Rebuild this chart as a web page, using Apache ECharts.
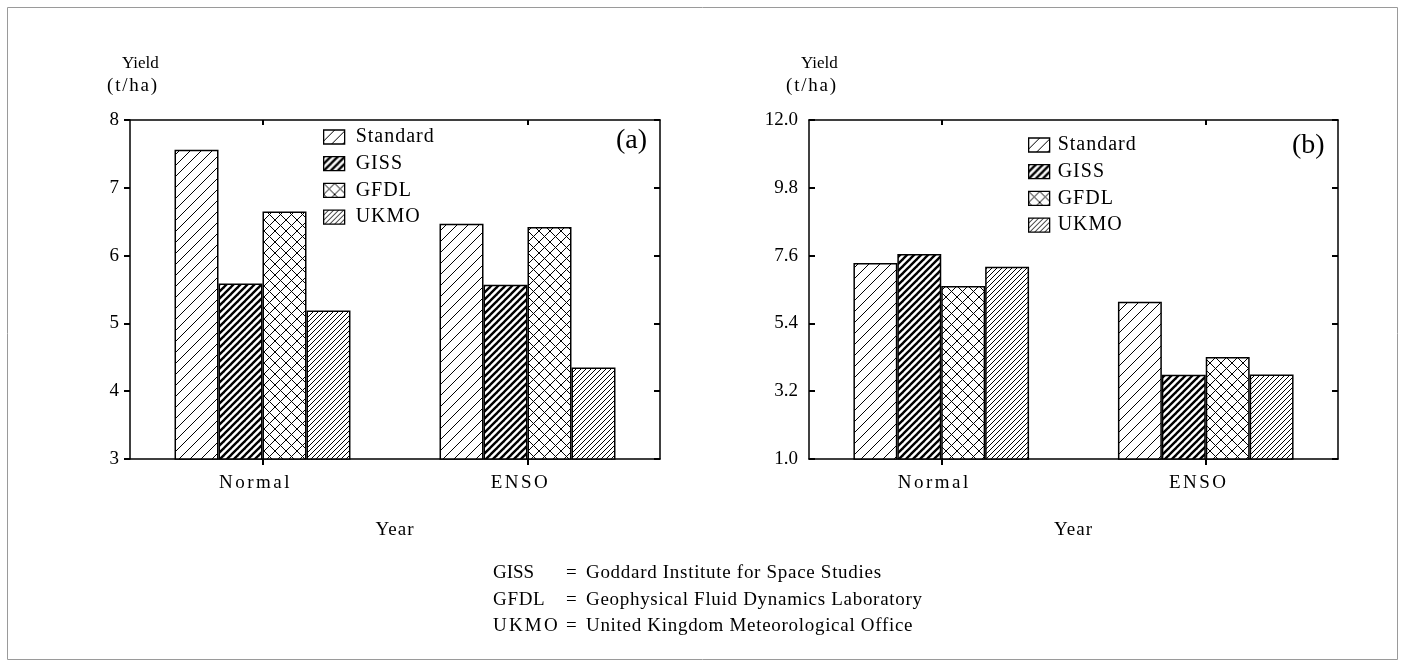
<!DOCTYPE html>
<html><head><meta charset="utf-8">
<script src="https://cdn.jsdelivr.net/npm/echarts@6/dist/echarts.min.js"></script>
<style>html,body{margin:0;padding:0;background:#fff}#c{width:1405px;height:667px}</style>
</head><body><div id="c"></div>
<script>
const categories = ['Normal', 'ENSO'];
const seriesNames = ['Standard', 'GISS', 'GFDL', 'UKMO'];
// panel (a)
const aStandard = [7.56, 6.47];
const aGISS = [5.59, 5.57];
const aGFDL = [6.65, 6.42];
const aUKMO = [5.19, 4.35];
const ticksA = [3, 4, 5, 6, 7, 8];
// panel (b)
const bStandard = [7.36, 6.10];
const bGISS = [7.65, 3.73];
const bGFDL = [6.61, 4.31];
const bUKMO = [7.24, 3.74];
const ticksB = [1.0, 3.2, 5.4, 7.6, 9.8, 12.0];
const footAbbr = ['GISS', 'GFDL', 'UKMO'];
const footText = ['Goddard Institute for Space Studies', 'Geophysical Fluid Dynamics Laboratory', 'United Kingdom Meteorological Office'];

// letter-spacing support through marker font families (text stays real text)
const SPACING = { LtrSpA: '0.7px', LtrSpB: '1.5px', LtrSpC: '2.2px', LtrSpD: '2.5px', LtrSpE: '1px', LtrSpF: '1.8px' };
(function () {
  const P = CanvasRenderingContext2D.prototype;
  const wrap = (name) => {
    const orig = P[name];
    P[name] = function () {
      if ('letterSpacing' in this) {
        const m = /LtrSp[A-Z]/.exec(this.font || '');
        this.letterSpacing = m ? SPACING[m[0]] : '0px';
        const r = orig.apply(this, arguments);
        this.letterSpacing = '0px';
        return r;
      }
      return orig.apply(this, arguments);
    };
  };
  wrap('fillText'); wrap('strokeText');
})();
const SERIF = '"Liberation Serif", "Times New Roman", serif';
const fam = (k) => (k ? k + ', ' : '') + SERIF;

function hatch(size, width, dirs) {
  const c = document.createElement('canvas');
  c.width = size; c.height = size;
  const g = c.getContext('2d');
  g.fillStyle = '#fff'; g.fillRect(0, 0, size, size);
  g.strokeStyle = '#000'; g.lineWidth = width; g.lineCap = 'square';
  for (const d of dirs) {
    for (let k = -1; k <= 1; k++) {
      g.beginPath();
      if (d === '/') { g.moveTo(k * size, size); g.lineTo(k * size + size, 0); }
      else { g.moveTo(k * size, 0); g.lineTo(k * size + size, size); }
      g.stroke();
    }
  }
  return { image: c, repeat: 'repeat' };
}
const patterns = {
  Standard: hatch(11, 1, ['/']),
  GISS: hatch(7, 2.4, ['/']),
  GFDL: hatch(11, 1, ['/', '\\']),
  UKMO: hatch(5, 1, ['/'])
};

const chart = echarts.init(document.getElementById('c'), null, { renderer: 'canvas' });

function axesFor(gi, min, max, interval, ticks, fmt, leftTickInside) {
  const xBottom = {
    type: 'category', gridIndex: gi, data: categories, position: 'bottom',
    axisLine: { lineStyle: { color: '#000', width: 1.5 } },
    axisTick: { show: true, alignWithLabel: true, length: 6, lineStyle: { color: '#000', width: 2 } },
    axisLabel: { color: '#000', fontSize: 19, fontFamily: fam('LtrSpD'), margin: 15, padding: [0, 14, 0, 0] },
    name: 'Year', nameLocation: 'middle', nameGap: 62,
    nameTextStyle: { color: '#000', fontSize: 19, fontFamily: fam('LtrSpE') }
  };
  const xTop = {
    type: 'category', gridIndex: gi, data: categories, position: 'top',
    axisLine: { lineStyle: { color: '#000', width: 1.5 } },
    axisTick: { show: true, alignWithLabel: true, inside: true, length: 5, lineStyle: { color: '#000', width: 2 } },
    axisLabel: { show: false }
  };
  const yLeft = {
    type: 'value', gridIndex: gi, min: min, max: max, interval: interval, position: 'left',
    axisLine: { show: true, lineStyle: { color: '#000', width: 1.5 } },
    axisTick: { show: true, inside: leftTickInside, length: 6, customValues: ticks, lineStyle: { color: '#000', width: 2 } },
    axisLabel: { color: '#000', fontSize: 19, fontFamily: SERIF, margin: 11, customValues: ticks, formatter: fmt },
    splitLine: { show: false }
  };
  const yRight = {
    type: 'value', gridIndex: gi, min: min, max: max, interval: interval, position: 'right',
    axisLine: { show: true, lineStyle: { color: '#000', width: 1.5 } },
    axisTick: { show: true, inside: true, length: 6, customValues: ticks, lineStyle: { color: '#000', width: 2 } },
    axisLabel: { show: false },
    splitLine: { show: false }
  };
  return { x: [xBottom, xTop], y: [yLeft, yRight] };
}

const A = axesFor(0, 3, 8, 1, ticksA, v => String(v), false);
const B = axesFor(1, 1, 12, 2.2, ticksB, v => Number(v).toFixed(1), true);

const dataA = { Standard: aStandard, GISS: aGISS, GFDL: aGFDL, UKMO: aUKMO };
const dataB = { Standard: bStandard, GISS: bGISS, GFDL: bGFDL, UKMO: bUKMO };

function barSeries(data, xi, yi) {
  return seriesNames.map(n => ({
    type: 'bar', name: n, xAxisIndex: xi, yAxisIndex: yi, data: data[n],
    barGap: '0%', barCategoryGap: '33.6%',
    itemStyle: { color: patterns[n], borderColor: '#000', borderWidth: 1.5 },
    emphasis: { disabled: true }, silent: true, animation: false
  }));
}

function legendAt(left, top, textPad) {
  return {
    orient: 'vertical', data: seriesNames, left: left, top: top, padding: 0,
    icon: 'rect', itemWidth: 21, itemHeight: 14, itemGap: 6.7,
    textStyle: { color: '#000', fontSize: 20, lineHeight: 20, fontFamily: fam('LtrSpE'), padding: [0, 0, 0, textPad] },
    itemStyle: { borderColor: '#000', borderWidth: 1.3 },
    selectedMode: false
  };
}

const T = (x, y, text, size, sp, align) => ({
  type: 'text', x: x, y: y,
  style: { text: text, fontSize: size, fontFamily: fam(sp), fill: '#000', textAlign: align || 'left', textVerticalAlign: 'middle' }
});

const graphics = [
  { type: 'rect', shape: { x: 7.5, y: 7.5, width: 1390, height: 652 }, style: { fill: 'none', stroke: '#9a9a9a', lineWidth: 1 } },
  T(122, 64, 'Yield', 17, null),
  T(107, 86, '(t/ha)', 19, 'LtrSpF'),
  T(801, 64, 'Yield', 17, null),
  T(786, 86, '(t/ha)', 19, 'LtrSpF'),
  T(616, 141, '(a)', 28, null),
  T(1292, 146, '(b)', 28, null)
];
const abbrSp = ['', 'LtrSpA', 'LtrSpC'];
const footY = [573, 600, 626];
footAbbr.forEach((a, i) => {
  graphics.push(T(493, footY[i], a, 19, abbrSp[i]));
  graphics.push(T(566, footY[i], '=', 19, null));
  graphics.push(T(586, footY[i], footText[i], 19, 'LtrSpA'));
});

chart.setOption({
  animation: false,
  backgroundColor: '#fff',
  grid: [
    { left: 130, top: 120, width: 530, height: 339 },
    { left: 809, top: 120, width: 529, height: 339 }
  ],
  xAxis: [...A.x, ...B.x],
  yAxis: [...A.y, ...B.y],
  legend: [legendAt(323, 127, 6), legendAt(1028, 135, 3)],
  series: [...barSeries(dataA, 0, 0), ...barSeries(dataB, 2, 2)],
  graphic: graphics
});
</script></body></html>
